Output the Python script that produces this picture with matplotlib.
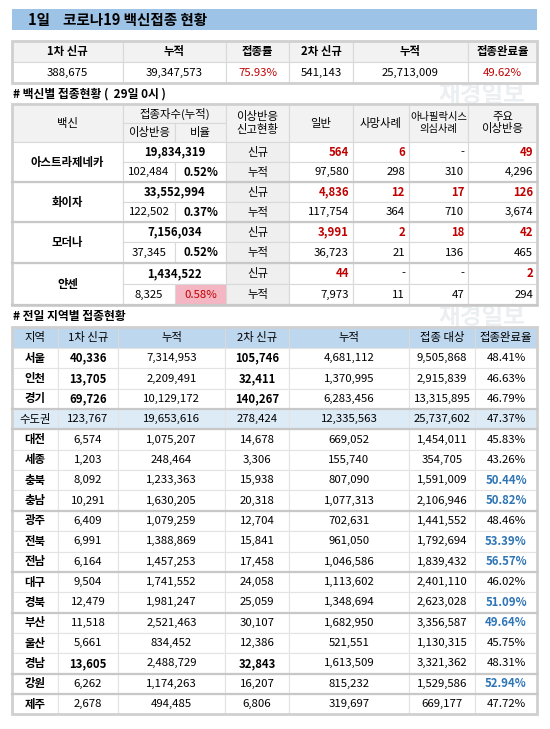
import matplotlib.pyplot as plt
from matplotlib.patches import Rectangle

plt.rcParams['font.family'] = ['Noto Sans CJK KR', 'DejaVu Sans']

RED = '#c00000'
BLUE = '#2e75b6'

# ---- data ----
top_header = ['1차 신규', '누적', '접종률', '2차 신규', '누적', '접종완료율']
top_values = ['388,675', '39,347,573', '75.93%', '541,143', '25,713,009', '49.62%']

vaccines = ['아스트라제네카', '화이자', '모더나', '얀센']
vac_total = ['19,834,319', '33,552,994', '7,156,034', '1,434,522']
vac_adverse = ['102,484', '122,502', '37,345', '8,325']
vac_ratio = ['0.52%', '0.37%', '0.52%', '0.58%']
vac_new = [['564', '6', '-', '49'], ['4,836', '12', '17', '126'],
           ['3,991', '2', '18', '42'], ['44', '-', '-', '2']]
vac_cum = [['97,580', '298', '310', '4,296'], ['117,754', '364', '710', '3,674'],
           ['36,723', '21', '136', '465'], ['7,973', '11', '47', '294']]

reg_header = ['지역', '1차 신규', '누적', '2차 신규', '누적', '접종 대상', '접종완료율']
regions = ['서울', '인천', '경기', '수도권', '대전', '세종', '충북', '충남', '광주', '전북',
           '전남', '대구', '경북', '부산', '울산', '경남', '강원', '제주']
first_new = ['40,336', '13,705', '69,726', '123,767', '6,574', '1,203', '8,092', '10,291',
             '6,409', '6,991', '6,164', '9,504', '12,479', '11,518', '5,661', '13,605',
             '6,262', '2,678']
first_cum = ['7,314,953', '2,209,491', '10,129,172', '19,653,616', '1,075,207', '248,464',
             '1,233,363', '1,630,205', '1,079,259', '1,388,869', '1,457,253', '1,741,552',
             '1,981,247', '2,521,463', '834,452', '2,488,729', '1,174,263', '494,485']
second_new = ['105,746', '32,411', '140,267', '278,424', '14,678', '3,306', '15,938', '20,318',
              '12,704', '15,841', '17,458', '24,058', '25,059', '30,107', '12,386', '32,843',
              '16,207', '6,806']
second_cum = ['4,681,112', '1,370,995', '6,283,456', '12,335,563', '669,052', '155,740',
              '807,090', '1,077,313', '702,631', '961,050', '1,046,586', '1,113,602',
              '1,348,694', '1,682,950', '521,551', '1,613,509', '815,232', '319,697']
target = ['9,505,868', '2,915,839', '13,315,895', '25,737,602', '1,454,011', '354,705',
          '1,591,009', '2,106,946', '1,441,552', '1,792,694', '1,839,432', '2,401,110',
          '2,623,028', '3,356,587', '1,130,315', '3,321,362', '1,529,586', '669,177']
done_rate = ['48.41%', '46.63%', '46.79%', '47.37%', '45.83%', '43.26%', '50.44%', '50.82%',
             '48.46%', '53.39%', '56.57%', '46.02%', '51.09%', '49.64%', '45.75%', '48.31%',
             '52.94%', '47.72%']

fig = plt.figure(figsize=(5.5, 7.29), dpi=100)
ax = fig.add_axes([0, 0, 1, 1])
ax.set_xlim(0, 550)
ax.set_ylim(729, 0)
ax.axis('off')


def cell(x0, x1, y0, y1, text='', color='black', bold=False, bg=None, size=8.2,
         ha='center', edge='#d9d9d9'):
    ax.add_patch(Rectangle((x0, y0), x1 - x0, y1 - y0, facecolor=bg or 'white',
                           edgecolor=edge, lw=0.8))
    if ha == 'center':
        tx = (x0 + x1) / 2
    else:
        tx = x1 - 4
    ax.text(tx, (y0 + y1) / 2, text, ha=ha, va='center', fontsize=size, color=color,
            fontweight='bold' if bold else 'normal')


def border(x0, x1, y0, y1):
    ax.add_patch(Rectangle((x0, y0), x1 - x0, y1 - y0, fill=False, edgecolor='#d0d0d0', lw=2))


# title bar
ax.add_patch(Rectangle((12, 9), 525, 21, facecolor='#9dc3e6', edgecolor='none'))
ax.text(28, 19.5, '1일    코로나19 백신접종 현황', fontsize=10.5, va='center', fontweight='bold')

# top summary
tcols = [12, 123, 226, 289, 353, 468, 537]
for i in range(6):
    cell(tcols[i], tcols[i + 1], 41, 62, top_header[i], bold=True, bg='#f2f2f2')
    c = RED if i in (2, 5) else 'black'
    cell(tcols[i], tcols[i + 1], 62, 83, top_values[i], color=c)
border(12, 537, 41, 83)

ax.text(13, 94, '# 백신별 접종현황 (  29일 0시 )', fontsize=8.5, va='center', fontweight='bold')

# vaccine table
vc = [12, 123, 175, 226, 289, 353, 409, 468, 537]
hy0, hy1, hy2 = 104, 123, 142
cell(vc[0], vc[1], hy0, hy2, '백신', bg='#f2f2f2')
cell(vc[1], vc[3], hy0, hy1, '접종자수(누적)', bg='#f2f2f2')
cell(vc[1], vc[2], hy1, hy2, '이상반응', bg='#f2f2f2')
cell(vc[2], vc[3], hy1, hy2, '비율', bg='#f2f2f2')
cell(vc[3], vc[4], hy0, hy2, '이상반응\n신고현황', bg='#f2f2f2')
cell(vc[4], vc[5], hy0, hy2, '일반', bg='#f2f2f2')
cell(vc[5], vc[6], hy0, hy2, '사망사례', bg='#f2f2f2')
cell(vc[6], vc[7], hy0, hy2, '아나필락시스\n의심사례', bg='#f2f2f2', size=7.4)
cell(vc[7], vc[8], hy0, hy2, '주요\n이상반응', bg='#f2f2f2')
vrows = [(142, 162, 182), (182, 202, 222), (222, 242, 263), (263, 284, 305)]
for k, (a, b, c2) in enumerate(vrows):
    cell(vc[0], vc[1], a, c2, vaccines[k], bold=True)
    cell(vc[1], vc[3], a, b, vac_total[k], bold=True)
    cell(vc[1], vc[2], b, c2, vac_adverse[k])
    if k == 3:
        cell(vc[2], vc[3], b, c2, vac_ratio[k], color=RED, bg='#f4b6c2')
    else:
        cell(vc[2], vc[3], b, c2, vac_ratio[k], bold=True)
    cell(vc[3], vc[4], a, b, '신규', bg='#efefef')
    cell(vc[3], vc[4], b, c2, '누적', bg='#efefef')
    for j in range(4):
        nv = vac_new[k][j]
        cell(vc[4 + j], vc[5 + j], a, b, nv, color=RED if nv != '-' else 'black',
             bold=nv != '-', ha='right')
        cell(vc[4 + j], vc[5 + j], b, c2, vac_cum[k][j], ha='right')
    ax.plot([12, 537], [c2, c2], color='#c8c8c8', lw=1.6)
border(12, 537, 104, 305)

ax.text(13, 316, '# 전일 지역별 접종현황', fontsize=8.5, va='center', fontweight='bold')

# regional table
rc = [12, 58, 118, 225, 289, 409, 475, 537]
for i in range(7):
    cell(rc[i], rc[i + 1], 327, 348, reg_header[i], bg='#bdd7ee')
rh = 20.35
bold_rows = {0, 1, 2, 15}
group_ends = {2, 3, 7, 10, 12, 15, 16}
for r in range(len(regions)):
    y0 = 348 + r * rh
    y1 = y0 + rh
    bg = '#ddebf7' if r == 3 else None
    vals = [regions[r], first_new[r], first_cum[r], second_new[r], second_cum[r],
            target[r], done_rate[r]]
    for i in range(7):
        bold = (i == 0 and r != 3) or (i in (1, 3) and r in bold_rows)
        color = 'black'
        rate = float(done_rate[r].rstrip('%'))
        if i == 6 and rate >= 49.62:
            color, bold = BLUE, True
        cell(rc[i], rc[i + 1], y0, y1, vals[i], color=color, bold=bold, bg=bg,
             edge='#e3e3e3')
    if r in group_ends:
        ax.plot([12, 537], [y1, y1], color='#c8c8c8', lw=1.6)
border(12, 537, 327, 348 + 18 * rh)

# faint watermark in the gaps above the tables
for wy in [95, 317]:
    ax.text(525, wy, '재경일보', fontsize=17, color='#c8d2dc', alpha=0.35, ha='right',
            va='center', fontweight='bold', zorder=0.5)

fig.savefig('out.png', dpi=100)
